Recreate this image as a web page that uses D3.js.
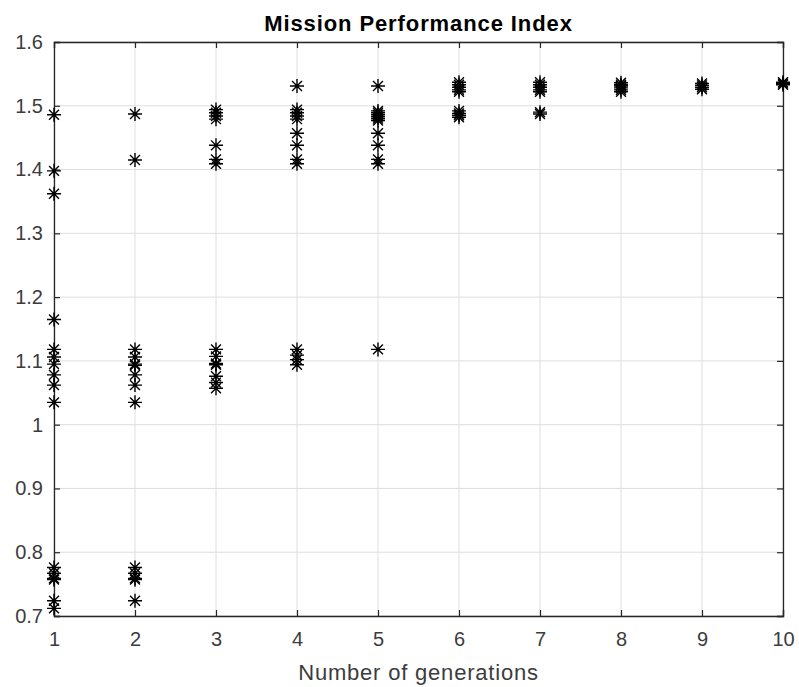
<!DOCTYPE html>
<html>
<head>
<meta charset="utf-8">
<script src="https://cdn.jsdelivr.net/npm/d3@7"></script>
<style>
  html, body { margin: 0; padding: 0; background: #fff; }
  svg { display: block; font-family: "Liberation Sans", Arial, sans-serif; }
</style>
</head>
<body>
<svg id="chart" width="799" height="687"></svg>
<script>
// Mission performance index of each individual, grouped by generation
const generations = [1, 2, 3, 4, 5, 6, 7, 8, 9, 10];
const gen1 = [1.486, 1.398, 1.362, 1.165, 1.118, 1.106, 1.095, 1.078, 1.062, 1.035, 0.776, 0.767, 0.759, 0.757, 0.724, 0.712];
const gen2 = [1.487, 1.415, 1.118, 1.106, 1.095, 1.093, 1.078, 1.062, 1.035, 0.776, 0.767, 0.759, 0.757, 0.724];
const gen3 = [1.494, 1.489, 1.484, 1.479, 1.438, 1.416, 1.409, 1.118, 1.107, 1.096, 1.094, 1.076, 1.066, 1.057];
const gen4 = [1.531, 1.494, 1.489, 1.484, 1.479, 1.457, 1.438, 1.416, 1.409, 1.118, 1.109, 1.102, 1.094];
const gen5 = [1.531, 1.492, 1.489, 1.486, 1.483, 1.480, 1.477, 1.457, 1.438, 1.416, 1.409, 1.118];
const gen6 = [1.537, 1.533, 1.529, 1.525, 1.522, 1.492, 1.488, 1.485, 1.482];
const gen7 = [1.537, 1.533, 1.529, 1.525, 1.522, 1.490, 1.487];
const gen8 = [1.536, 1.533, 1.531, 1.528, 1.525, 1.522];
const gen9 = [1.535, 1.532, 1.529, 1.526];
const gen10 = [1.537, 1.535, 1.533];
const valuesByGeneration = [gen1, gen2, gen3, gen4, gen5, gen6, gen7, gen8, gen9, gen10];

const xTicks = [1, 2, 3, 4, 5, 6, 7, 8, 9, 10];
const yTicks = [0.7, 0.8, 0.9, 1.0, 1.1, 1.2, 1.3, 1.4, 1.5, 1.6];
const yTickLabels = ["0.7", "0.8", "0.9", "1", "1.1", "1.2", "1.3", "1.4", "1.5", "1.6"];

const titleText = "Mission Performance Index";
const xLabelText = "Number of generations";

const svg = d3.select("#chart");
const margin = { left: 54, top: 42, right: 16, bottom: 71 };
const W = 799, H = 687;
const innerW = W - margin.left - margin.right;
const innerH = H - margin.top - margin.bottom;

const x = d3.scaleLinear().domain([1, 10]).range([margin.left, margin.left + innerW]);
const y = d3.scaleLinear().domain([0.7, 1.6]).range([margin.top + innerH, margin.top]);

const points = [];
generations.forEach((g, i) => valuesByGeneration[i].forEach(v => points.push({ g, v })));

// grid
const grid = svg.append("g").attr("stroke", "#dedede").attr("stroke-width", 1);
grid.selectAll("line.gx").data(xTicks).join("line")
  .attr("x1", d => x(d)).attr("x2", d => x(d))
  .attr("y1", margin.top).attr("y2", margin.top + innerH);
grid.selectAll("line.gy").data(yTicks).join("line")
  .attr("y1", d => y(d)).attr("y2", d => y(d))
  .attr("x1", margin.left).attr("x2", margin.left + innerW);

// axes (ticks point inward, box on all sides)
const tickLen = 6;
const axisColor = "#262626";
const labelColor = "#3c3c3c";

const xAxis = svg.append("g").attr("transform", `translate(0,${margin.top + innerH})`)
  .call(d3.axisBottom(x).tickValues(xTicks).tickSize(-tickLen).tickPadding(16).tickFormat(d3.format("d")));
const xAxisTop = svg.append("g").attr("transform", `translate(0,${margin.top})`)
  .call(d3.axisTop(x).tickValues(xTicks).tickSize(-tickLen).tickFormat(""));
const yAxis = svg.append("g").attr("transform", `translate(${margin.left},0)`)
  .call(d3.axisLeft(y).tickValues(yTicks).tickSize(-tickLen).tickPadding(11)
    .tickFormat((d, i) => yTickLabels[i]));
const yAxisRight = svg.append("g").attr("transform", `translate(${margin.left + innerW},0)`)
  .call(d3.axisRight(y).tickValues(yTicks).tickSize(-tickLen).tickFormat(""));

[xAxis, xAxisTop, yAxis, yAxisRight].forEach(a => {
  a.select(".domain").attr("stroke", axisColor).attr("stroke-width", 1.3);
  a.selectAll(".tick line").attr("stroke", axisColor).attr("stroke-width", 1.2);
  a.selectAll("text").attr("fill", labelColor)
    .style("font-family", "'Liberation Sans', Arial, sans-serif")
    .style("font-size", "20px");
});

// star markers (plus + cross)
const r = 7;
const d45 = r * Math.SQRT1_2;
const starPath = `M${-r},0L${r},0M0,${-r}L0,${r}M${-d45},${-d45}L${d45},${d45}M${-d45},${d45}L${d45},${-d45}`;
svg.append("g").selectAll("path").data(points).join("path")
  .attr("transform", d => `translate(${x(d.g)},${y(d.v)})`)
  .attr("d", starPath)
  .attr("fill", "none")
  .attr("stroke", "#000")
  .attr("stroke-width", 1.4);

// title and axis label
svg.append("text")
  .attr("x", margin.left + innerW / 2).attr("y", 31)
  .attr("text-anchor", "middle")
  .attr("font-weight", "bold").attr("font-size", 22)
  .attr("letter-spacing", 0.9)
  .attr("fill", "#000")
  .text(titleText);

svg.append("text")
  .attr("x", margin.left + innerW / 2).attr("y", 680)
  .attr("text-anchor", "middle")
  .attr("font-size", 22)
  .attr("letter-spacing", 0.8)
  .attr("fill", labelColor)
  .text(xLabelText);
</script>
</body>
</html>
